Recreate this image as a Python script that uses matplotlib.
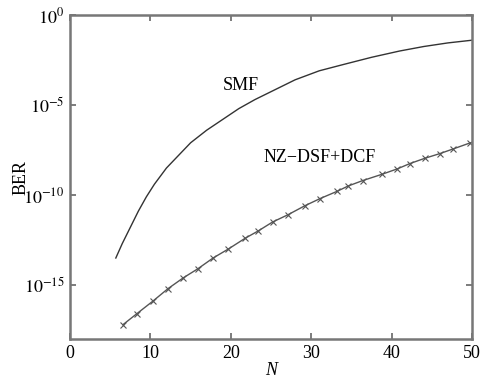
import numpy as np
import matplotlib
matplotlib.use("Agg")
import matplotlib.pyplot as plt

plt.rcParams['font.family'] = ['Liberation Serif', 'DejaVu Serif']
plt.rcParams['mathtext.fontset'] = 'stix'

# SMF curve (N, log10 BER)
smf_n = [5.7, 6.5, 7.5, 8.5, 9.5, 10.5, 12.0, 13.5, 15.0, 17.0, 19.0, 21.0, 23.0,
         25.5, 28.0, 31.0, 34.0, 37.5, 41.0, 44.0, 47.0, 50.0]
smf_log = [-13.5, -12.7, -11.8, -10.9, -10.1, -9.4, -8.5, -7.8, -7.1, -6.4, -5.8, -5.2, -4.7,
           -4.15, -3.6, -3.1, -2.75, -2.35, -2.0, -1.75, -1.55, -1.4]

# NZ-DSF+DCF curve
nz_n = [6.6, 8.3, 10.3, 12.2, 14.1, 15.9, 17.8, 19.7, 21.8, 23.4, 25.2, 27.1,
        29.2, 31.1, 33.2, 34.6, 36.4, 38.8, 40.7, 42.3, 44.2, 46.0, 47.6, 49.8]
nz_log = [-17.2, -16.6, -15.9, -15.2, -14.6, -14.1, -13.5, -13.0, -12.4, -12.0, -11.5, -11.1,
          -10.6, -10.2, -9.8, -9.5, -9.2, -8.85, -8.55, -8.25, -7.95, -7.7, -7.45, -7.1]

xticks = [0, 10, 20, 30, 40, 50]
yticks = [1e0, 1e-5, 1e-10, 1e-15]
ytick_labels = [r'$10^{0}$', r'$10^{-5}$', r'$10^{-10}$', r'$10^{-15}$']

fig = plt.figure(figsize=(4.95, 3.83), dpi=100)
ax = fig.add_axes([0.1414, 0.1149, 0.8121, 0.8459])

ax.semilogy(smf_n, 10.0 ** np.array(smf_log), color='#333333', lw=1.0)
ax.semilogy(nz_n, 10.0 ** np.array(nz_log), color='#555555', lw=1.0,
            marker='x', ms=4.5, mew=0.8)

ax.set_xlim(0, 50)
ax.set_ylim(1e-18, 1e0)
ax.set_xticks(xticks)
ax.set_xticklabels([str(t) for t in xticks])
ax.set_yticks(yticks)
ax.set_yticklabels(ytick_labels)
ax.yaxis.set_minor_locator(matplotlib.ticker.NullLocator())

ax.tick_params(direction='in', top=True, right=True, length=4, width=1.2,
               color='#666666', labelsize=13, labelcolor='black', pad=4)
for s in ax.spines.values():
    s.set_color('#777777')
    s.set_linewidth(1.8)

ax.set_xlabel('N', fontstyle='italic', fontsize=13, labelpad=0)
ax.set_ylabel('BER', fontsize=13)
ax.yaxis.set_label_coords(-0.10, 0.5)

ax.text(21.3, 10 ** -3.9, 'SMF', fontsize=13, ha='center', va='center')
ax.text(31.0, 10 ** -7.9, 'NZ\u2212DSF+DCF', fontsize=13, ha='center', va='center')

fig.savefig('out.png', dpi=100)
